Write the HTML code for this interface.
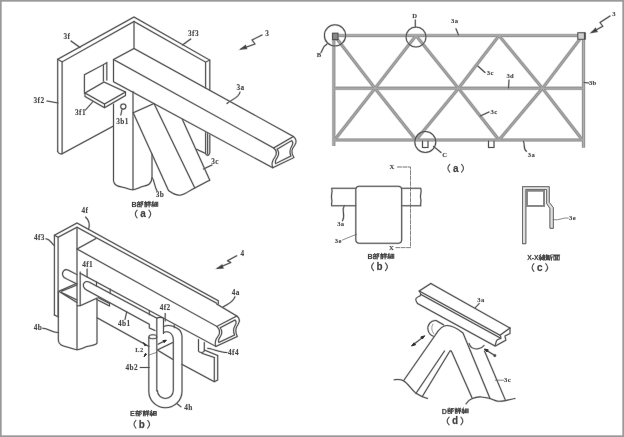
<!DOCTYPE html>
<html><head><meta charset="utf-8">
<style>
html,body{margin:0;padding:0;background:#fff;}
body{width:624px;height:437px;overflow:hidden;font-family:"Liberation Serif",serif;}
svg{position:absolute;left:0;top:0;}
.l{fill:none;stroke-linecap:round;stroke-linejoin:round;}
.halo{stroke:#dcdcdc;stroke-width:2.2;}
.core{stroke:#505050;stroke-width:1.05;}
.t{font-family:"Liberation Serif",serif;font-weight:bold;fill:#454545;stroke:#d8d8d8;stroke-width:0.5;paint-order:stroke;letter-spacing:0.35px;}
.c{font-family:"Liberation Sans",sans-serif;font-weight:bold;fill:#444;stroke:#bbb;stroke-width:0.4;paint-order:stroke;}
.p{font-family:"Liberation Mono",monospace;font-weight:bold;fill:#444;stroke:#aaa;stroke-width:0.4;paint-order:stroke;}
</style></head><body>
<svg width="624" height="437" viewBox="0 0 624 437">
<defs><filter id="gray" x="0" y="0" width="100%" height="100%" filterUnits="userSpaceOnUse" color-interpolation-filters="sRGB"><feColorMatrix type="saturate" values="0"/></filter><g id="art">
<g class="l" id="f3a">
<path d="M57.7 151.3V59.2L134 17L209.8 60.1V90"/>
<path d="M62.1 153.8V61.9L134 21.5L205.6 62.1V88"/>
<path d="M57.7 59.2L62.1 61.9M57.7 151.3C58 153 60 154.2 62.1 153.8L113.5 126"/>
<path d="M205.6 62.1L209.8 60.1"/>
<path d="M134 21.5V48.5"/>
<path d="M134 48.5L293.4 136.5"/>
<path d="M134 48.5L113.5 59.5L273.6 148"/>
<path d="M113.5 59.5V81.7L272.7 167.8"/>
<path d="M273.6 148L293.4 136.5C296.5 139 297 142 294.6 145.5C291.6 149 290.6 152 293.9 157.6L272.7 167.8C271.3 164 272.3 160.5 274.8 157.2C277.3 153.8 277.3 151 273.6 148Z"/>
<path d="M277 149.2L291.6 140.6C293.3 142.2 293.2 143.8 291.8 146C289.6 149.5 289.3 152.5 291 156L275.6 163.6C274.8 161.5 275.6 159.8 277.2 157.6C279.2 154.6 279.3 152 277 149.2Z"/>
<path d="M113.5 104V180.8C114 186 119 186.5 124 187.5C128 188.5 130 189.7 132.5 189.7C136 189.7 139 187.5 142.5 186.5C147 185.5 151.5 185 152 177.5V154"/>
<path d="M133 91.5V189.7"/>
<path d="M133.2 112.7L154 103.5L194.8 188"/>
<path d="M133.2 112.7L168.5 190.5C172 193 176 196 181 195C186 194 190 190 194.8 188C200 185.5 205 182.5 209.8 180.3L182.3 119.3"/>
<path d="M205.6 132.5V153.2C205.8 155.4 208 155.8 209 154.6M209.8 134.8V152.6L209 154.6M207.6 133.6V154M205.6 153.5L196.5 149.3" />
<path d="M84.4 93.3V74.8L103.4 64.6V81M103.4 64.6L106.8 62.7"/>
<path d="M106.8 62.7V80"/>
<path d="M85 93L104 82L125.5 92L104.5 104Z"/>
<path d="M85 93V96.5L104.5 107.7V104M104.5 107.7L125.5 95.5V92"/>
<circle cx="123.3" cy="106.5" r="2.6"/>
<path d="M122 109.5L120.8 115"/>
<path d="M71 41L80 47.5"/>
<path d="M47 101L58 103"/>
<path d="M190.7 39L182.5 45"/>
<path d="M85.5 110L93 101.5"/>
<path d="M240 92C239 98 232 99 227 103.5"/>
<path d="M212 165L203.5 169"/>
<path d="M152 177.5C155 181 154 187 157.5 191.5"/>
<path d="M262 35L252 40L255 44L241 49"/>
</g>
<path d="M241 49L245.5 45.5L246.5 48.5Z" fill="#333"/>
<g class="l" id="f4">
<path d="M54.4 315V235.3L77 223L218.3 300.8V304"/>
<path d="M58.1 316.8V237.3L77 227.2L216.7 303.3"/>
<path d="M54.4 235.3L58.1 237.3M54.4 315L58.1 316.8"/>
<path d="M77 227.2V305.8"/>
<path d="M77 249L96 238.5"/>
<path d="M77 249L216.8 326.4"/>
<path d="M216.7 304L236.8 316"/>
<path d="M80.2 273.3L215.8 346.4"/>
<path d="M216.8 326.4L236.8 316C239.8 318.3 240.2 321 238 324.5C235.2 328 234.6 331 237.3 336.5L215.8 346.4C214.5 343 215.5 339.5 218 336.3C220.5 333 220.5 330 216.8 326.4Z"/>
<path d="M220.2 327.8L235 320C236.6 321.5 236.5 323 235.2 325.2C233.2 328.5 233 331.5 234.6 335L218.8 342.4C218 340.3 218.8 338.6 220.4 336.5C222.4 333.5 222.5 331 220.2 327.8Z"/>
<path d="M77 274.6L68 270C64.5 268.5 61.5 272 62.8 275.5C63.5 277.5 65 278.2 66 278.6L77 284"/>
<path d="M58.8 291.3L77 283.2M58.8 291.3L77 302.5M61.5 291.3L77 285M61.5 292.5L77 300"/>
<path d="M80.2 272V305.8L77.5 305.8M80.2 305.8L96.8 298.3"/>
<path d="M157 318.2L89 282C85.5 280.5 82.5 283 83.5 286.5C84.3 289 86 289.8 87 290.3L149.3 324.3V328L155 330.5"/>
<path d="M96.5 281.8V286M110.2 289V293.2M96.8 299.5L109.5 306V303.5L98 297.5"/>
<path d="M149.3 310.6V314.8"/>
<path d="M58.3 291.3V340C58.6 345 63 346 67 347C71 348 74 349.7 77 349.7C80.5 349.7 83.5 347.5 87 346.5C91.5 345.5 96.5 345 97 343V298.3"/>
<path d="M77 306V349.7"/>
<path d="M97 317.7L149 346.5M181.8 364.2L214.3 381.7V357.5M214.3 381.7L217.7 380V355.5"/>
<path d="M204.3 350L217.7 355.5M201.8 353.3L214.3 357.5"/>
<path d="M198.5 339.5V351C199.5 353 203.3 353 204.3 351V342.5"/>
<path d="M156.8 318.5C157 317 163.3 317 163.5 318.5V333.5M156.8 318.5V391"/>
<path d="M148.8 337V391.2A16.6 16.5 0 0 0 182 391.2V336C181.5 332 180 329.8 177.5 328.5C174 326 169 324.3 163.5 326.5"/>
<path d="M157.4 390.6A7.95 7.9 0 0 0 173.3 390.6V340C173.3 336.5 172 334 169.8 332.6C167.8 331.5 165.5 331.6 163.5 332.5"/>
<ellipse cx="152.9" cy="336.7" rx="3.9" ry="2"/>
<path d="M157.3 350L172.8 342.5M157.3 350L173 359.5M158 344.3L165 340.8M174.2 324.8V327.6"/>
<path d="M148.6 355.2L156.7 352.3" stroke-width="0.6"/>
<path d="M85.6 217C88.2 219.5 90.6 223.5 88.5 229.3"/>
<path d="M46 238.8C50 239 51 243 54.3 245.5"/>
<path d="M87.1 269V277"/>
<path d="M42.7 328.3C48 328 52 333 58.5 332.5"/>
<path d="M125 319.5L126.7 311.8"/>
<path d="M165.2 313.5V321"/>
<path d="M235 296.7C233 303 227 304 222.5 307.5"/>
<path d="M236.7 255.8L227.5 260.8L230.8 262.5L217.5 268.3"/>
<path d="M140.2 367.5H149.3"/>
<path d="M227 352.5C221 352.5 213 349 207.7 348.3"/>
<path d="M181 406.8L176.7 403.5"/>
</g>
<path d="M217.5 268.3L222 265L223 268Z" fill="#333"/>
<path d="M146.3 345.2L143.6 342.6L144.8 345.6Z M146.6 354.4L144 356.8L145.3 353.6Z M166.3 340.2L163 340.6L164.2 342.6Z" fill="#333" stroke="#333" stroke-width="0.7"/>
<g id="truss" fill="none" stroke-linecap="butt">
<path d="M334 35.6H583.5M334 88.3H583.5M334 140H583.5M333.8 33.5V146M583.5 33.5V147.5M334.5 35.6L375 88.3L416 140M334.5 140L375 88.3L416 35.6M416 35.6L458.5 88.3L499 140M416 140L458.5 88.3L499 35.6M499 35.6L542.5 88.3L582.5 140M499 140L542.5 88.3L582.5 35.6" stroke="#e4e4e4" stroke-width="4.0"/>
<path d="M334 35.6H583.5M334 88.3H583.5M334 140H583.5M333.8 33.5V146M583.5 33.5V147.5M334.5 35.6L375 88.3L416 140M334.5 140L375 88.3L416 35.6M416 35.6L458.5 88.3L499 140M416 140L458.5 88.3L499 35.6M499 35.6L542.5 88.3L582.5 140M499 140L542.5 88.3L582.5 35.6" stroke="#939393" stroke-width="2.9"/>
<path d="M334 35.6H583.5M334 88.3H583.5M334 140H583.5M333.8 33.5V146M583.5 33.5V147.5M334.5 35.6L375 88.3L416 140M334.5 140L375 88.3L416 35.6M416 35.6L458.5 88.3L499 140M416 140L458.5 88.3L499 35.6M499 35.6L542.5 88.3L582.5 140M499 140L542.5 88.3L582.5 35.6" stroke="#adadad" stroke-width="1.0"/>
</g>
<g class="l">
<circle cx="335" cy="35.4" r="10.6"/>
<circle cx="416" cy="37" r="10"/>
<circle cx="425.3" cy="142" r="10.5"/>
<path d="M422.5 141V147.5H428V141"/>
<path d="M488.5 141V147.5H494V141"/>
<rect x="332.6" y="33.2" width="5.4" height="6.4" fill="#888"/>
<rect x="577.8" y="32.8" width="7.4" height="6.4" fill="#cfcfcf"/><path d="M584.6 33.2V38.8" stroke-width="1.4"/>
<path d="M415.3 20V27"/>
<path d="M321 52.5C323 50 322 47 327.3 43.8"/>
<path d="M456 28.8L458.5 35"/>
<path d="M610 16L600 22.5L602.8 26.3L591.5 32.5"/>
<path d="M485 72.5L477.8 66"/>
<path d="M509 80L508.5 88"/>
<path d="M589 83L584 82.5"/>
<path d="M489 112L480.3 116"/>
<path d="M526.5 151.3C523 149 525 145 523.5 141.3"/>
<path d="M441 152.5L433.5 146.3"/>
</g>
<path d="M591.5 32.5L595.5 28.5L597 31.5Z" fill="#333"/>
<g class="l">
<rect x="355.8" y="186.3" width="45.9" height="57" rx="3.5"/>
<path d="M355.8 188.3H331.7C333 192 330.5 196 331.7 199C332.5 202 331 204 331.7 205.8H355.8"/>
<path d="M401.7 188.3H420.8C422 192 419.5 196 420.8 199C421.5 202 420 204 420.8 205.8H401.7"/>
<path d="M397.5 167H410.5V247.6H396" stroke-dasharray="4 1.5" stroke-width="0.55" stroke="#666"/>
<path d="M342.5 220.8C346 215 341 211 344.2 205.8"/>
<path d="M342.5 240L356.7 234.2" stroke-width="0.6"/>
</g>
<g class="l">
<path d="M522.5 243.3V186.7H549.2V202.5L553.3 207.5V228.3H550V208.5L546.7 203.5V189.5H525.8V243.3Z" fill="#dedede" stroke="#5a5a5a" stroke-width="0.8"/>
<rect x="526.9" y="190.6" width="17.2" height="15.3" stroke-width="1.9" stroke="#858585"/>
<path d="M568.3 218C563 217 559 221 553.3 219.7" stroke-width="0.6"/>
</g>
<g class="l">
<path d="M430.8 283.5L510 328"/>
<path d="M430.8 283.5L419.2 291L500 335.2L510 328"/>
<path d="M421 294.5L500.8 338.3"/>
<path d="M419.2 291C420.5 293 421.5 294 420.5 295.5C418 297 415.3 298 415.8 299.5C416 301.5 417 302.5 417.5 303.5L495 346"/>
<path d="M510 328V333.5L505 336C505 338 506 339 505.8 340.2L495.8 345.7"/>
<path d="M500 335.2C501 336.5 501 337.5 500.8 338.3C499 339 497 339.5 496.7 340.5C496 342 495.5 344 495 346"/>
<path d="M403.5 380.8L435.2 335.2C439 329 443 325.5 447 325.5C452 325.5 458 329 463 333L490 398.5"/>
<path d="M484.5 351L505.6 400.6"/>
<path d="M422.3 396.5L449.3 352C450 350.5 451.2 350.5 451.8 352L472.3 398.5"/>
<path d="M416 393.3L444.5 351"/>
<path d="M443.5 324.8L436 320.5C431 320 427 325 428 330C428.8 333.5 431 335.5 433.5 336.2"/>
<path d="M433 324C431 327 431.5 331 434 334" stroke-width="0.5"/>
<path d="M469 343.5C470 347.5 474 349.5 478 348.8C481 348.3 483 347 484 345.5"/>
<path d="M394.2 379.8C398 379 401 379.5 403.5 380.8C408 383.5 411 389 416 393.3C420 396 424 397.5 427.5 398.5"/>
<path d="M466 403.8C468 401 470 399.3 472.3 398.5C476 397 479 396.6 481.7 397C485 397.3 487.5 398 490 398.5C493 399.5 496 401 498.3 401.3C501 401.5 503.5 401 505.6 400.6C509 400 512 399 515 398.5"/>
<path d="M413.5 344.5L422.8 337.3"/>
<path d="M486 350L494.3 355.2"/>
<path d="M479.2 303.5L475 308"/>
<path d="M503.5 380.2H495.2" stroke-width="0.6"/>
</g>
<path d="M411.5 346L415.5 344.8L414 342.8Z M424.7 335.8L420.8 337L422.3 339Z M484.3 349L488.2 349.8L487 352Z" fill="#333" stroke="#333" stroke-width="0.6"/>
<circle cx="494.8" cy="355.6" r="0.9" fill="#333"/>
</g></defs>
<rect x="0" y="0" width="624" height="437" fill="#fff"/>
<use href="#art" class="halo"/>
<use href="#art" class="core"/>
<g filter="url(#gray)">
<text class="t" x="67" y="39.41" font-size="7.3" text-anchor="middle">3f</text>
<text class="t" x="39" y="103.41" font-size="7.3" text-anchor="middle">3f2</text>
<text class="t" x="193.5" y="36.41" font-size="7.3" text-anchor="middle">3f3</text>
<text class="t" x="267.3" y="35.88" font-size="7.2" text-anchor="middle">3</text>
<text class="t" x="240.5" y="89.91" font-size="7.3" text-anchor="middle">3a</text>
<text class="t" x="80.5" y="115.41" font-size="7.3" text-anchor="middle">3f1</text>
<text class="t" x="122.5" y="123.91" font-size="7.3" text-anchor="middle">3b1</text>
<text class="t" x="215" y="164.11" font-size="7.3" text-anchor="middle">3c</text>
<text class="t" x="160" y="197.41" font-size="7.3" text-anchor="middle">3b</text>
<text class="c" x="134.00" y="206.90" font-size="7.2" text-anchor="middle">B</text>
<path transform="translate(137.00 201.20) scale(0.640 0.580)" d="M0.5 2H5M2.7 0.3V2M1.2 3L1.8 4.6M4.2 3L3.6 4.6M0.3 5H5.2M1 6.3H4.5V9.5H1ZM6.5 0.8V9.9M6.5 0.8H9.3L7.8 3.5C9.6 4.2 9.8 6.2 7.6 6.8" fill="none" stroke="#484848" stroke-width="1.6" stroke-linecap="square"/>
<path transform="translate(144.25 201.20) scale(0.640 0.580)" d="M2 0.2L2.6 1.2M0.3 2H4.5M1 3.6H3.8M1 5.1H3.8M1 6.6H3.8V9.5H1ZM6.2 0.3L6.9 1.6M9 0.3L8.3 1.6M5.5 2.3H9.7M5.8 4.4H9.4M5.2 6.6H10M7.6 2.3V9.9" fill="none" stroke="#484848" stroke-width="1.6" stroke-linecap="square"/>
<path transform="translate(151.50 201.20) scale(0.640 0.580)" d="M2.6 0.2L0.8 2.4L2.8 2.6L0.6 5.2L4.2 4.8M2.4 5V9.8M1 6.6L0.3 8.8M3.8 6.6L4.5 8.6M5.5 1.8H9.8V8.6H5.5ZM7.65 1.8V8.6M5.5 5.2H9.8" fill="none" stroke="#484848" stroke-width="1.6" stroke-linecap="square"/>
<path class="l" stroke="#555" stroke-width="1.2" d="M137.1 210.1C134.7 212.5 134.7 215.5 137.1 217.9"/><path class="l" stroke="#555" stroke-width="1.2" d="M148.9 210.1C151.3 212.5 151.3 215.5 148.9 217.9"/><text class="p" x="143" y="217.4" font-size="10.2" text-anchor="middle">a</text>
<text class="t" x="84.8" y="213.01" font-size="7.3" text-anchor="middle">4f</text>
<text class="t" x="39.3" y="239.61" font-size="7.3" text-anchor="middle">4f3</text>
<text class="t" x="87.7" y="266.91" font-size="7.3" text-anchor="middle">4f1</text>
<text class="t" x="38" y="329.91" font-size="7.3" text-anchor="middle">4b</text>
<text class="t" x="124.3" y="325.81" font-size="7.3" text-anchor="middle">4b1</text>
<text class="t" x="165.2" y="310.41" font-size="7.3" text-anchor="middle">4f2</text>
<text class="t" x="235.8" y="294.91" font-size="7.3" text-anchor="middle">4a</text>
<text class="t" x="242.5" y="255.68" font-size="7.2" text-anchor="middle">4</text>
<text class="t" x="139.4" y="352.31" font-size="6.4" text-anchor="middle">L2</text>
<text class="t" x="131.8" y="369.91" font-size="7.3" text-anchor="middle">4b2</text>
<text class="t" x="233.5" y="354.91" font-size="7.3" text-anchor="middle">4f4</text>
<text class="t" x="188.5" y="410.41" font-size="7.3" text-anchor="middle">4h</text>
<text class="c" x="132.50" y="416.10" font-size="7.2" text-anchor="middle">E</text>
<path transform="translate(135.50 410.40) scale(0.640 0.580)" d="M0.5 2H5M2.7 0.3V2M1.2 3L1.8 4.6M4.2 3L3.6 4.6M0.3 5H5.2M1 6.3H4.5V9.5H1ZM6.5 0.8V9.9M6.5 0.8H9.3L7.8 3.5C9.6 4.2 9.8 6.2 7.6 6.8" fill="none" stroke="#484848" stroke-width="1.6" stroke-linecap="square"/>
<path transform="translate(142.75 410.40) scale(0.640 0.580)" d="M2 0.2L2.6 1.2M0.3 2H4.5M1 3.6H3.8M1 5.1H3.8M1 6.6H3.8V9.5H1ZM6.2 0.3L6.9 1.6M9 0.3L8.3 1.6M5.5 2.3H9.7M5.8 4.4H9.4M5.2 6.6H10M7.6 2.3V9.9" fill="none" stroke="#484848" stroke-width="1.6" stroke-linecap="square"/>
<path transform="translate(150.00 410.40) scale(0.640 0.580)" d="M2.6 0.2L0.8 2.4L2.8 2.6L0.6 5.2L4.2 4.8M2.4 5V9.8M1 6.6L0.3 8.8M3.8 6.6L4.5 8.6M5.5 1.8H9.8V8.6H5.5ZM7.65 1.8V8.6M5.5 5.2H9.8" fill="none" stroke="#484848" stroke-width="1.6" stroke-linecap="square"/>
<path class="l" stroke="#555" stroke-width="1.2" d="M135.9 420.3C133.5 422.7 133.5 425.7 135.9 428.09999999999997"/><path class="l" stroke="#555" stroke-width="1.2" d="M147.70000000000002 420.3C150.10000000000002 422.7 150.10000000000002 425.7 147.70000000000002 428.09999999999997"/><text class="p" x="141.8" y="427.59999999999997" font-size="10.2" text-anchor="middle">b</text>
<text class="t" x="414.75" y="18.43" font-size="6.6" text-anchor="middle">D</text>
<text class="t" x="319" y="57.18" font-size="6.6" text-anchor="middle">B</text>
<text class="t" x="454.75" y="23.43" font-size="6.6" text-anchor="middle">3a</text>
<text class="t" x="614" y="15.93" font-size="6.6" text-anchor="middle">3</text>
<text class="t" x="490.25" y="74.68" font-size="6.6" text-anchor="middle">3c</text>
<text class="t" x="510.25" y="78.43" font-size="6.6" text-anchor="middle">3d</text>
<text class="t" x="592.75" y="85.18" font-size="6.6" text-anchor="middle">3b</text>
<text class="t" x="494" y="113.68" font-size="6.6" text-anchor="middle">3c</text>
<text class="t" x="531.5" y="156.68" font-size="6.6" text-anchor="middle">3a</text>
<text class="t" x="444.75" y="156.68" font-size="6.6" text-anchor="middle">C</text>
<path class="l" stroke="#555" stroke-width="1.2" d="M449.8 164.29999999999998C447.4 166.7 447.4 169.7 449.8 172.1"/><path class="l" stroke="#555" stroke-width="1.2" d="M461.59999999999997 164.29999999999998C464.0 166.7 464.0 169.7 461.59999999999997 172.1"/><text class="p" x="455.7" y="171.6" font-size="10.2" text-anchor="middle">a</text>
<text class="t" x="392" y="168.68" font-size="6.6" text-anchor="middle">X</text>
<text class="t" x="391.5" y="249.98" font-size="6.6" text-anchor="middle">X</text>
<text class="t" x="340.8" y="225.88" font-size="6.6" text-anchor="middle">3a</text>
<text class="t" x="338.3" y="242.98" font-size="6.6" text-anchor="middle">3e</text>
<text class="c" x="370.00" y="258.90" font-size="7.2" text-anchor="middle">B</text>
<path transform="translate(373.00 253.20) scale(0.640 0.580)" d="M0.5 2H5M2.7 0.3V2M1.2 3L1.8 4.6M4.2 3L3.6 4.6M0.3 5H5.2M1 6.3H4.5V9.5H1ZM6.5 0.8V9.9M6.5 0.8H9.3L7.8 3.5C9.6 4.2 9.8 6.2 7.6 6.8" fill="none" stroke="#484848" stroke-width="1.6" stroke-linecap="square"/>
<path transform="translate(380.25 253.20) scale(0.640 0.580)" d="M2 0.2L2.6 1.2M0.3 2H4.5M1 3.6H3.8M1 5.1H3.8M1 6.6H3.8V9.5H1ZM6.2 0.3L6.9 1.6M9 0.3L8.3 1.6M5.5 2.3H9.7M5.8 4.4H9.4M5.2 6.6H10M7.6 2.3V9.9" fill="none" stroke="#484848" stroke-width="1.6" stroke-linecap="square"/>
<path transform="translate(387.50 253.20) scale(0.640 0.580)" d="M2.6 0.2L0.8 2.4L2.8 2.6L0.6 5.2L4.2 4.8M2.4 5V9.8M1 6.6L0.3 8.8M3.8 6.6L4.5 8.6M5.5 1.8H9.8V8.6H5.5ZM7.65 1.8V8.6M5.5 5.2H9.8" fill="none" stroke="#484848" stroke-width="1.6" stroke-linecap="square"/>
<path class="l" stroke="#555" stroke-width="1.2" d="M373.6 262.8C371.2 265.2 371.2 268.2 373.6 270.59999999999997"/><path class="l" stroke="#555" stroke-width="1.2" d="M385.4 262.8C387.8 265.2 387.8 268.2 385.4 270.59999999999997"/><text class="p" x="379.5" y="270.09999999999997" font-size="10.2" text-anchor="middle">b</text>
<text class="t" x="572.5" y="220.18" font-size="6.6" text-anchor="middle">3e</text>
<text class="c" x="529.44" y="260.20" font-size="6.8" text-anchor="middle">X</text>
<text class="c" x="532.91" y="260.20" font-size="6.8" text-anchor="middle">-</text>
<text class="c" x="536.38" y="260.20" font-size="6.8" text-anchor="middle">X</text>
<path transform="translate(538.92 254.50) scale(0.640 0.580)" d="M2.6 0.2L0.8 2.4L2.8 2.6L0.6 5.2L4.2 4.8M2.4 5V9.8M1 6.6L0.3 8.8M3.8 6.6L4.5 8.6M6 1.5H9.5V4.5H6ZM6 3H9.5M7.6 0.2L7.2 1.5M7.7 4.5V9.8M5.4 6H7L5.6 9M9.8 5.6L8.3 7L10 9.6" fill="none" stroke="#484848" stroke-width="1.6" stroke-linecap="square"/>
<path transform="translate(546.12 254.50) scale(0.640 0.580)" d="M0.5 0.5V9H4.8M2.8 1V8M1.2 4.4H4.6M1.4 2L2.2 3.4M4.3 2L3.5 3.4M2.8 4.6L1.2 7.5M2.8 4.6L4.5 7.5M9.6 0.4L6.2 1.6V5C6.2 7.5 5.8 8.8 5.2 9.8M6.2 4.2H10M8.3 4.2V9.9" fill="none" stroke="#484848" stroke-width="1.6" stroke-linecap="square"/>
<path transform="translate(553.32 254.50) scale(0.640 0.580)" d="M0.2 0.8H9.8M4.6 0.8L4 2.6M0.8 2.6H9.2V9.6H0.8ZM3.6 2.6V9.6M6.4 2.6V9.6M3.6 4.9H6.4M3.6 7.2H6.4" fill="none" stroke="#484848" stroke-width="1.6" stroke-linecap="square"/>
<path class="l" stroke="#555" stroke-width="1.2" d="M533.9 263.6C531.5 266.0 531.5 269.0 533.9 271.4"/><path class="l" stroke="#555" stroke-width="1.2" d="M545.6999999999999 263.6C548.0999999999999 266.0 548.0999999999999 269.0 545.6999999999999 271.4"/><text class="p" x="539.8" y="270.9" font-size="10.2" text-anchor="middle">c</text>
<text class="t" x="481" y="302.18" font-size="6.6" text-anchor="middle">3a</text>
<text class="t" x="507.5" y="381.68" font-size="6.6" text-anchor="middle">3c</text>
<text class="c" x="444.40" y="413.60" font-size="7.2" text-anchor="middle">D</text>
<path transform="translate(447.40 407.90) scale(0.640 0.580)" d="M0.5 2H5M2.7 0.3V2M1.2 3L1.8 4.6M4.2 3L3.6 4.6M0.3 5H5.2M1 6.3H4.5V9.5H1ZM6.5 0.8V9.9M6.5 0.8H9.3L7.8 3.5C9.6 4.2 9.8 6.2 7.6 6.8" fill="none" stroke="#484848" stroke-width="1.6" stroke-linecap="square"/>
<path transform="translate(454.65 407.90) scale(0.640 0.580)" d="M2 0.2L2.6 1.2M0.3 2H4.5M1 3.6H3.8M1 5.1H3.8M1 6.6H3.8V9.5H1ZM6.2 0.3L6.9 1.6M9 0.3L8.3 1.6M5.5 2.3H9.7M5.8 4.4H9.4M5.2 6.6H10M7.6 2.3V9.9" fill="none" stroke="#484848" stroke-width="1.6" stroke-linecap="square"/>
<path transform="translate(461.90 407.90) scale(0.640 0.580)" d="M2.6 0.2L0.8 2.4L2.8 2.6L0.6 5.2L4.2 4.8M2.4 5V9.8M1 6.6L0.3 8.8M3.8 6.6L4.5 8.6M5.5 1.8H9.8V8.6H5.5ZM7.65 1.8V8.6M5.5 5.2H9.8" fill="none" stroke="#484848" stroke-width="1.6" stroke-linecap="square"/>
<path class="l" stroke="#555" stroke-width="1.2" d="M449.1 417.1C446.7 419.5 446.7 422.5 449.1 424.9"/><path class="l" stroke="#555" stroke-width="1.2" d="M460.9 417.1C463.3 419.5 463.3 422.5 460.9 424.9"/><text class="p" x="455" y="424.4" font-size="10.2" text-anchor="middle">d</text>
</g>
<rect x="0.85" y="0.85" width="622.3" height="435.3" fill="none" stroke="#9a9a9a" stroke-width="1.7"/>
</svg>
</body></html>
